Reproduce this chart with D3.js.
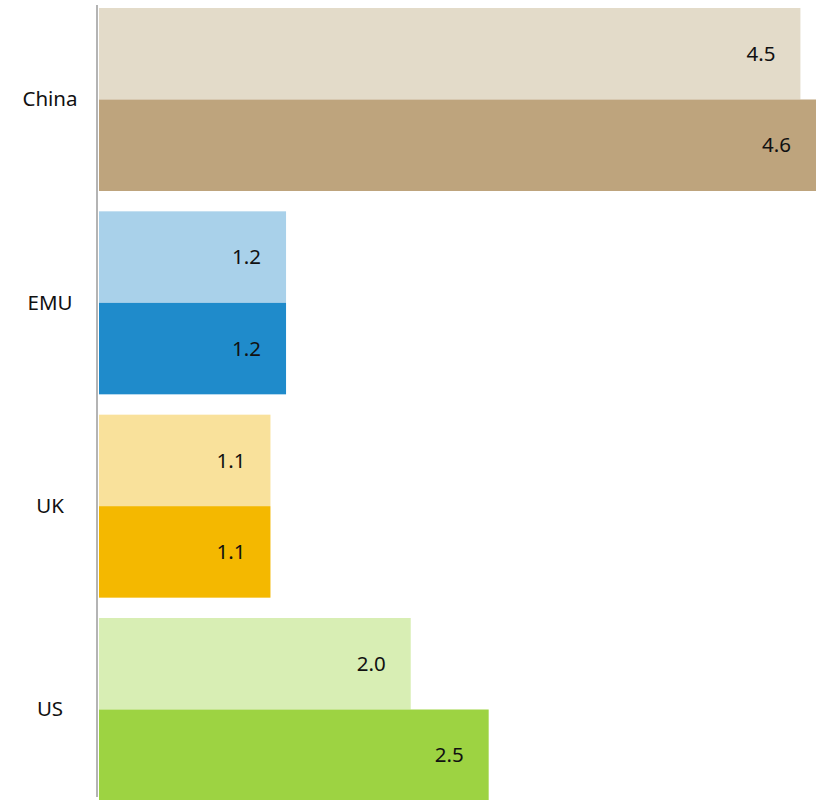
<!DOCTYPE html>
<html>
<head>
<meta charset="utf-8">
<script src="https://cdn.jsdelivr.net/npm/d3@7"></script>
<style>
  html, body { margin: 0; padding: 0; background: #fff; }
  svg { display: block; }
  text { font-family: "Noto Sans", sans-serif; fill: #111; }
</style>
</head>
<body>
<svg id="chart" width="816" height="800"></svg>
<script>
// Regions shown top to bottom, two readings each (light = first, dark = second)
const regions = ["China", "EMU", "UK", "US"];
const seriesKeys = ["first", "second"];
const firstValues = [4.5, 1.2, 1.1, 2.0];
const secondValues = [4.6, 1.2, 1.1, 2.5];

// Per-region colour pairs: [light, dark]
const lightColors = ["#e3dbc9", "#a9d1ea", "#f9e19b", "#d8eeb4"];
const darkColors = ["#bea47d", "#1f8bcb", "#f4b800", "#9dd342"];

const rows = regions.map((r, i) => ({
  region: r,
  values: [
    { key: "first", value: firstValues[i], color: lightColors[i] },
    { key: "second", value: secondValues[i], color: darkColors[i] }
  ]
}));

const svg = d3.select("#chart");
const plotLeft = 99, plotRight = 816, plotTop = 8, plotBottom = 801;

const x = d3.scaleLinear()
  .domain([0, d3.max(secondValues.concat(firstValues))])
  .range([plotLeft, plotRight]);

const y0 = d3.scaleBand()
  .domain(regions)
  .range([plotTop, plotBottom])
  .paddingInner(0.1)
  .paddingOuter(0);

const y1 = d3.scaleBand()
  .domain(seriesKeys)
  .range([0, y0.bandwidth()])
  .padding(0);

const groups = svg.append("g")
  .selectAll("g")
  .data(rows)
  .join("g")
  .attr("transform", d => `translate(0,${y0(d.region)})`);

groups.selectAll("rect")
  .data(d => d.values)
  .join("rect")
  .attr("x", x(0))
  .attr("y", d => y1(d.key))
  .attr("width", d => x(d.value) - x(0))
  .attr("height", y1.bandwidth())
  .attr("fill", d => d.color);

groups.selectAll("text.value")
  .data(d => d.values)
  .join("text")
  .attr("class", "value")
  .attr("x", d => x(d.value) - 25)
  .attr("y", d => y1(d.key) + y1.bandwidth() / 2)
  .attr("dy", "0.35em")
  .attr("text-anchor", "end")
  .style("font-size", "20.5px")
  .text(d => d3.format(".1f")(d.value));

// Category axis: labels centred in the left margin, no ticks
const axis = svg.append("g")
  .attr("transform", `translate(${plotLeft - 2},0)`)
  .call(d3.axisLeft(y0).tickSize(0).tickPadding(0));
axis.select(".domain").remove();
axis.selectAll(".tick text")
  .attr("x", -47)
  .attr("dy", "0.33em")
  .attr("text-anchor", "middle")
  .style("font-family", "'Noto Sans', sans-serif")
  .style("font-size", "20.5px")
  .style("fill", "#111");

// Vertical baseline at zero
svg.append("line")
  .attr("x1", plotLeft - 2).attr("x2", plotLeft - 2)
  .attr("y1", 5).attr("y2", 797)
  .attr("stroke", "#b4b4b4")
  .attr("stroke-width", 2);
</script>
</body>
</html>
